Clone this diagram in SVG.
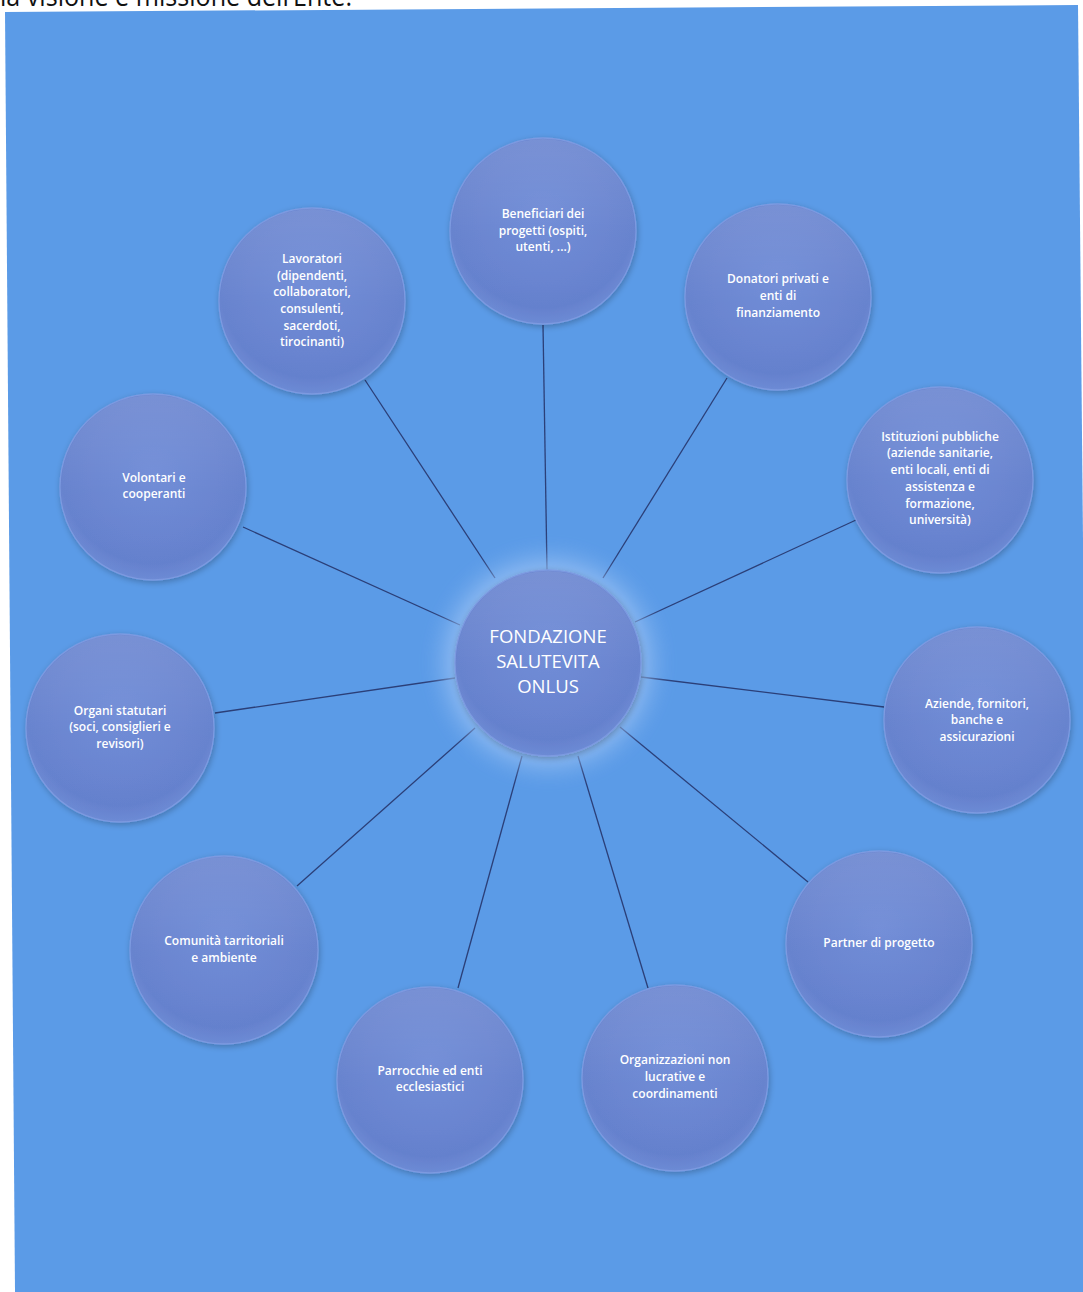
<svg xmlns="http://www.w3.org/2000/svg" width="1083" height="1292" viewBox="0 0 1083 1292">
<defs>
<radialGradient id="ball" cx="50%" cy="42%" r="58%">
<stop offset="0" stop-color="#6e8ad6"/>
<stop offset="0.85" stop-color="#6480cd"/>
<stop offset="1" stop-color="#6d8bd5"/>
</radialGradient>
<linearGradient id="gloss" x1="0" y1="0" x2="0" y2="1">
<stop offset="0" stop-color="#ffffff" stop-opacity="0.12"/>
<stop offset="0.5" stop-color="#ffffff" stop-opacity="0.03"/>
<stop offset="1" stop-color="#ffffff" stop-opacity="0"/>
</linearGradient>
<filter id="shadow" x="-20%" y="-20%" width="140%" height="140%">
<feGaussianBlur in="SourceAlpha" stdDeviation="3"/>
<feOffset dx="1" dy="2" result="b"/>
<feComponentTransfer><feFuncA type="linear" slope="0.25"/></feComponentTransfer>
<feMerge><feMergeNode/><feMergeNode in="SourceGraphic"/></feMerge>
</filter>
<filter id="glow" x="-50%" y="-50%" width="200%" height="200%">
<feGaussianBlur stdDeviation="12"/>
</filter>
</defs>
<style>
.node circle.b{fill:url(#ball);stroke:#7d9ae0;stroke-width:1.3;filter:url(#shadow)}
.node circle.g{fill:url(#gloss);stroke:none}
.node text{font-family:"Open Sans","Noto Sans","Liberation Sans",sans-serif;font-size:12px;font-weight:600;fill:#ffffff;text-anchor:middle}
#center text{font-size:18.5px;font-weight:400}
.conn line{stroke:#2b3f78;stroke-width:1.3}
</style>
<rect width="1083" height="1292" fill="#ffffff"/>
<text x="0" y="6" font-family="'Open Sans','Noto Sans','Liberation Sans',sans-serif" font-size="27" fill="#111111" textLength="352" lengthAdjust="spacingAndGlyphs">la visione e missione dell’Ente.</text>
<polygon points="5,12 1078,5 1090,1292 15,1292" fill="#5b9be7"/>
<g class="conn">
<line x1="543" y1="325" x2="547" y2="570"/>
<line x1="365" y1="380" x2="495" y2="578"/>
<line x1="727" y1="378" x2="603" y2="578"/>
<line x1="243" y1="527" x2="460" y2="625"/>
<line x1="856" y1="520" x2="635" y2="622"/>
<line x1="215" y1="713" x2="455" y2="678"/>
<line x1="884" y1="707" x2="641" y2="677"/>
<line x1="297" y1="886" x2="475" y2="728"/>
<line x1="808" y1="882" x2="620" y2="727"/>
<line x1="458" y1="988" x2="522" y2="756"/>
<line x1="648" y1="988" x2="578" y2="756"/>
</g>
<circle cx="548" cy="663" r="104" fill="#9cc3f5" opacity="0.8" filter="url(#glow)"/>
<g id="center" class="node">
<circle class="b" cx="548" cy="663" r="93"/><circle class="g" cx="548" cy="663" r="92"/>
<text x="548" y="643">FONDAZIONE</text><text x="548" y="668">SALUTEVITA</text><text x="548" y="693">ONLUS</text>
</g>
<g id="beneficiari" class="node">
<circle class="b" cx="543" cy="231" r="93"/><circle class="g" cx="543" cy="231" r="92"/>
<text x="543" y="218">Beneficiari dei</text><text x="543" y="235">progetti (ospiti,</text><text x="543" y="251">utenti, ...)</text>
</g>
<g id="lavoratori" class="node">
<circle class="b" cx="312" cy="301" r="93"/><circle class="g" cx="312" cy="301" r="92"/>
<text x="312" y="263">Lavoratori</text><text x="312" y="280">(dipendenti,</text><text x="312" y="296">collaboratori,</text><text x="312" y="313">consulenti,</text><text x="312" y="330">sacerdoti,</text><text x="312" y="346">tirocinanti)</text>
</g>
<g id="donatori" class="node">
<circle class="b" cx="778" cy="297" r="93"/><circle class="g" cx="778" cy="297" r="92"/>
<text x="778" y="283">Donatori privati e</text><text x="778" y="300">enti di</text><text x="778" y="317">finanziamento</text>
</g>
<g id="volontari" class="node">
<circle class="b" cx="153" cy="487" r="93"/><circle class="g" cx="153" cy="487" r="92"/>
<text x="154" y="482">Volontari e</text><text x="154" y="498">cooperanti</text>
</g>
<g id="istituzioni" class="node">
<circle class="b" cx="940" cy="480" r="93"/><circle class="g" cx="940" cy="480" r="92"/>
<text x="940" y="441">Istituzioni pubbliche</text><text x="940" y="457">(aziende sanitarie,</text><text x="940" y="474">enti locali, enti di</text><text x="940" y="491">assistenza e</text><text x="940" y="508">formazione,</text><text x="940" y="524">università)</text>
</g>
<g id="organi" class="node">
<circle class="b" cx="120" cy="728" r="94"/><circle class="g" cx="120" cy="728" r="93"/>
<text x="120" y="715">Organi statutari</text><text x="120" y="731">(soci, consiglieri e</text><text x="120" y="748">revisori)</text>
</g>
<g id="aziende" class="node">
<circle class="b" cx="977" cy="720" r="93"/><circle class="g" cx="977" cy="720" r="92"/>
<text x="977" y="708">Aziende, fornitori,</text><text x="977" y="724">banche e</text><text x="977" y="741">assicurazioni</text>
</g>
<g id="comunita" class="node">
<circle class="b" cx="224" cy="950" r="94"/><circle class="g" cx="224" cy="950" r="93"/>
<text x="224" y="945">Comunità tarritoriali</text><text x="224" y="962">e ambiente</text>
</g>
<g id="partner" class="node">
<circle class="b" cx="879" cy="944" r="93"/><circle class="g" cx="879" cy="944" r="92"/>
<text x="879" y="947">Partner di progetto</text>
</g>
<g id="parrocchie" class="node">
<circle class="b" cx="430" cy="1080" r="93"/><circle class="g" cx="430" cy="1080" r="92"/>
<text x="430" y="1075">Parrocchie ed enti</text><text x="430" y="1091">ecclesiastici</text>
</g>
<g id="organizzazioni" class="node">
<circle class="b" cx="675" cy="1078" r="93"/><circle class="g" cx="675" cy="1078" r="92"/>
<text x="675" y="1064">Organizzazioni non</text><text x="675" y="1081">lucrative e</text><text x="675" y="1098">coordinamenti</text>
</g>
</svg>
